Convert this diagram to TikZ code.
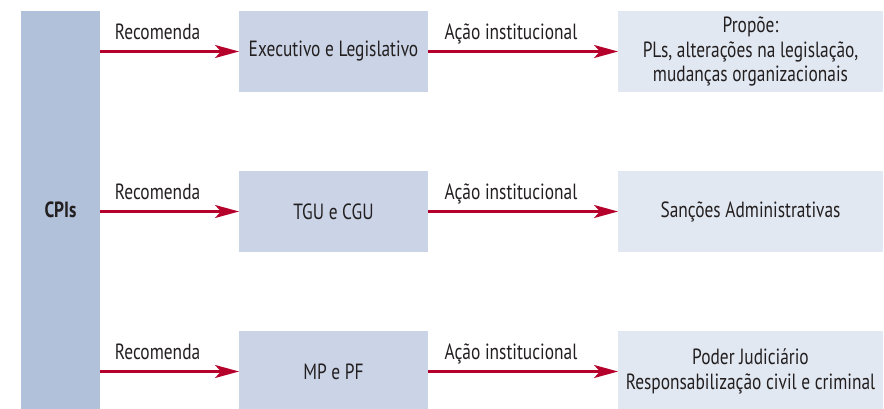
\documentclass[tikz,border=0pt]{standalone}
\usepackage{fontspec}
\setmainfont{PT Sans}[FakeStretch=0.79]
\usetikzlibrary{arrows.meta, positioning}
\definecolor{cpiblue}{HTML}{B1C1D9}
\definecolor{orgblue}{HTML}{CAD4E6}
\definecolor{resblue}{HTML}{E1E8F1}
\definecolor{arrowred}{HTML}{B4002B}
\definecolor{txt}{HTML}{231F20}
\tikzset{
  cpibar/.style={fill=cpiblue, minimum width=79pt, minimum height=398pt, inner sep=0pt, outer sep=0pt},
  orgbox/.style={fill=orgblue, minimum width=189pt, minimum height=81pt, inner sep=0pt, outer sep=0pt},
  resbox/.style={fill=resblue, minimum width=265pt, minimum height=81pt, inner sep=0pt, outer sep=0pt, align=center},
  flow/.style={draw=arrowred, line width=2.6pt, -{Stealth[length=24pt, width=13pt, inset=6pt]}},
  flowlabel/.style={anchor=base, yshift=11.7pt, inner sep=0pt}
}

\begin{document}
\begin{tikzpicture}[x=1pt, y=-1pt, font=\fontsize{22}{24.5}\selectfont, text=txt]
\useasboundingbox (0,0) rectangle (884,409);

% CPIs bar
\node[cpibar] (cpi) at (60.5,210) {\bfseries CPIs};

% Receiving organs
\node[orgbox] (org1) at (333.5,51.5) {Executivo e Legislativo};
\node[orgbox] (org2) at (333.5,211.5) {TGU e CGU};
\node[orgbox] (org3) at (333.5,371.5) {MP e PF};

% Results
\node[resbox] (res1) at (750.5,51.5) {Propõe:\\PLs, alterações na legislação,\\mudanças organizacionais};
\node[resbox] (res2) at (750.5,211.5) {Sanções Administrativas};
\node[resbox] (res3) at (750.5,371.5) {Poder Judiciário\\Responsabilização civil e criminal};

% Arrows
\foreach \r in {1,2,3} {
  \draw[flow] (cpi.east |- org\r.west) -- (org\r.west) node[flowlabel, pos=0.414] {Recomenda};
  \draw[flow] (org\r) -- (res\r) node[flowlabel, pos=0.437] {Ação institucional};
}

\end{tikzpicture}
\end{document}
